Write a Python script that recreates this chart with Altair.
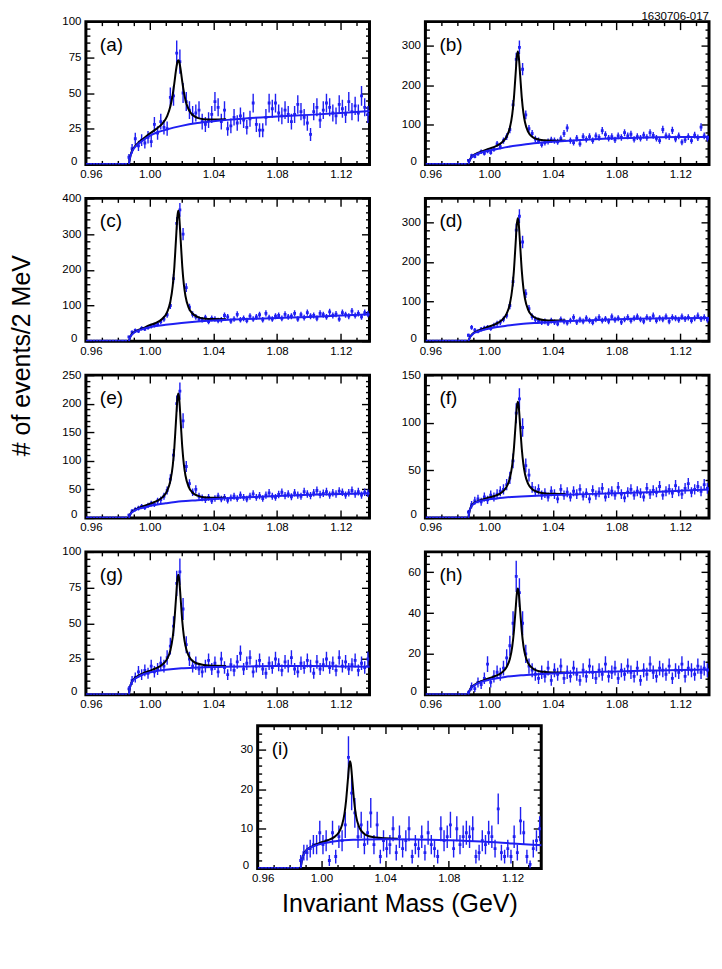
import altair as alt
import pandas as pd
import numpy as np

FONT = "Liberation Sans"
BLUE = "#1f1ff2"
W, H = 284, 143

# 2 MeV bin centres, 0.961 ... 1.139
BINS = [round(0.961 + 0.002 * i, 3) for i in range(90)]
N_EMPTY = 13  # bins below the K+K- threshold (0.961 ... 0.985)

# counts per bin from 0.987 upward
COUNTS = {
    "a": [5, 11, 18, 13, 17, 15, 19, 16, 28, 22,
          30, 26, 25, 47, 48, 78, 72, 50, 44, 38,
          35, 36, 38, 30, 28, 31, 35, 44, 40, 30,
          38, 25, 27, 33, 29, 34, 31, 26, 32, 43,
          28, 24, 24, 33, 43, 39, 43, 36, 34, 38,
          35, 30, 35, 42, 37, 33, 29, 21, 37, 40,
          31, 38, 43, 40, 36, 34, 42, 39, 35, 44,
          37, 41, 36, 48, 40, 35, 42],
    "b": [10, 22, 20, 27, 32, 28, 34, 30, 38, 52,
          45, 60, 70, 88, 150, 265, 295, 240, 125, 90,
          78, 64, 60, 50, 55, 58, 62, 60, 57, 65,
          78, 92, 60, 55, 66, 52, 70, 63, 70, 60,
          72, 68, 85, 75, 66, 70, 62, 72, 68, 80,
          72, 76, 63, 70, 66, 74, 68, 80, 73, 66,
          60, 88, 72, 70, 86, 64, 72, 56, 62, 70,
          60, 74, 67, 94, 72, 66, 78],
    "c": [12, 25, 30, 28, 36, 34, 38, 42, 45, 48,
          55, 62, 74, 100, 175, 330, 368, 300, 150, 95,
          75, 68, 62, 60, 66, 55, 64, 62, 58, 60,
          72, 68, 56, 62, 75, 60, 64, 58, 70, 62,
          68, 74, 60, 78, 66, 62, 70, 72, 64, 75,
          68, 70, 78, 62, 74, 66, 80, 70, 72, 64,
          78, 74, 68, 82, 72, 76, 62, 80, 74, 70,
          84, 72, 78, 68, 80, 76, 74],
    "d": [15, 35, 28, 25, 30, 33, 35, 32, 40, 45,
          48, 55, 65, 90, 150, 280, 315, 250, 120, 82,
          62, 55, 52, 48, 50, 45, 52, 48, 44, 55,
          50, 46, 52, 60, 48, 54, 50, 58, 52, 47,
          55, 60, 52, 56, 50, 62, 54, 58, 48, 55,
          60, 52, 58, 62, 55, 50, 60, 56, 64, 52,
          58, 55, 62, 50, 60, 58, 54, 62, 56, 60,
          52, 58, 64, 56, 60, 54, 58],
    "e": [5, 12, 15, 17, 20, 18, 22, 25, 24, 30,
          32, 38, 48, 68, 110, 200, 222, 170, 90, 60,
          45, 50, 38, 35, 32, 36, 30, 34, 38, 33,
          36, 31, 35, 38, 34, 40, 36, 33, 38, 42,
          36, 39, 34, 40, 44, 38, 36, 41, 45, 39,
          42, 37, 44, 40, 38, 46, 42, 39, 44, 48,
          41, 43, 46, 40, 44, 42, 47, 45, 40, 44,
          48, 42, 46, 40, 45, 43, 47],
    "f": [6, 14, 18, 20, 17, 22, 19, 24, 22, 25,
          28, 30, 35, 42, 60, 110, 125, 95, 55, 45,
          32, 28, 30, 24, 26, 22, 28, 25, 20, 30,
          24, 27, 22, 28, 25, 30, 23, 26, 20, 29,
          24, 27, 31, 22, 26, 28, 24, 32, 25, 21,
          27, 30, 24, 28, 26, 22, 31, 25, 29, 27,
          33, 24, 28, 30, 26, 34, 28, 25, 31, 36,
          27, 30, 33, 28, 35, 31, 29],
    "g": [4, 10, 12, 16, 14, 17, 15, 20, 16, 18,
          22, 20, 26, 34, 48, 78, 86, 60, 35, 25,
          20, 22, 18, 16, 20, 24, 18, 22, 16, 25,
          19, 14, 21, 17, 23, 29, 18, 22, 26, 16,
          20, 24, 18, 15, 22, 19, 25, 21, 17, 23,
          20, 26, 18, 16, 22, 19, 24, 20, 15, 23,
          18, 21, 25, 19, 22, 17, 26, 20, 23, 18,
          21, 24, 17, 22, 19, 25, 20],
    "h": [1, 4, 3, 6, 5, 8, 15, 6, 9, 11,
          10, 13, 18, 24, 35, 58, 50, 35, 20, 14,
          12, 10, 8, 11, 9, 13, 7, 12, 10, 14,
          8, 11, 9, 13, 10, 7, 12, 9, 14, 11,
          8, 12, 10, 15, 9, 11, 13, 8, 12, 10,
          14, 11, 9, 13, 7, 12, 10, 15, 11, 9,
          13, 12, 10, 14, 8, 12, 11, 15, 9, 13,
          12, 10, 14, 11, 13, 12, 15],
    "i": [2, 4, 4, 5, 6, 6, 9, 6, 7, 2,
          9, 3, 8, 7, 11, 28, 19, 14, 8, 11,
          6, 9, 14, 6, 11, 3, 7, 5, 6, 10,
          4, 8, 5, 7, 10, 3, 6, 5, 8, 4,
          9, 6, 5, 3, 10, 7, 8, 11, 5, 10,
          6, 8, 9, 8, 10, 3, 4, 7, 6, 9,
          8, 5, 15, 4, 3, 5, 3, 8, 4, 12,
          9, 3, 1, 5, 7, 10, 6],
}

# background fit curve samples
BX = [0.987, 0.9875, 0.988, 0.989, 0.990, 0.992, 0.995, 1.000, 1.005, 1.010,
      1.020, 1.030, 1.040, 1.060, 1.080, 1.100, 1.120, 1.140]
BG = {
    "a": [0, 3.5, 6, 9, 11, 13.5, 16.2, 20, 22.5, 24.2, 27, 29, 30.3, 32.2, 33.5, 34.7, 36, 37.5],
    "b": [0, 7, 12, 18, 22, 26, 30, 35, 39, 43, 49, 54, 57, 62, 66, 68, 69, 69],
    "c": [0, 8, 13, 19, 23, 28, 33, 39, 43, 46, 51, 55, 58, 62, 65, 68, 72, 75],
    "d": [0, 6, 10, 15, 19, 23, 27, 32, 35.5, 38.5, 43, 46, 48.5, 52, 55, 57, 58, 58.5],
    "e": [0, 4, 7, 10, 12, 15, 17.5, 21, 23.5, 25.5, 29, 31, 33, 36, 38.5, 40.5, 42, 43],
    "f": [0, 6, 9, 12.5, 14.5, 16.5, 18, 19.5, 20.5, 21.5, 22.5, 23.3, 24, 25, 26, 27, 28.5, 30],
    "g": [0, 4, 6.5, 9, 10.5, 12, 13.8, 15.5, 16.8, 17.5, 18.5, 19, 19.4, 19.8, 20, 20, 19.8, 19.5],
    "h": [0, 1.5, 2.5, 3.5, 4.2, 5.2, 6.2, 7.3, 8.1, 8.7, 9.5, 10, 10.4, 11, 11.4, 11.8, 12.1, 12.4],
    "i": [0, 1.5, 2.5, 3.5, 4.2, 5.0, 5.6, 6.2, 6.6, 6.9, 7.2, 7.3, 7.35, 7.3, 7.1, 6.8, 6.3, 5.8],
}

# total fit curve samples (signal + background) around the phi peak
CX = [0.987, 0.988, 0.990, 0.993, 0.996, 1.000, 1.004, 1.008, 1.011, 1.013,
      1.0145, 1.0155, 1.0165, 1.0175, 1.018, 1.0185, 1.0195, 1.0205, 1.0215, 1.0225,
      1.0245, 1.027, 1.030, 1.034, 1.040, 1.048]
TOT = {
    "a": [0, 6.2, 11.4, 15.2, 18.0, 21.6, 24.7, 28.6, 33.8, 40.5, 48.9, 56.7, 65.5, 72.0, 73.0,
          72.2, 66.2, 57.9, 50.6, 45.0, 38.5, 34.6, 32.6, 31.7, 31.4, 31.6],
    "b": [0, 12.5, 22.9, 29.2, 33.6, 39.5, 45.5, 55.4, 70.3, 92.4, 126.1, 165.0, 221.4, 275.3, 285,
          275.8, 223.0, 167.8, 129.9, 106.2, 81.9, 69.6, 64.0, 61.0, 60.0, 60.6],
    "c": [0, 13.6, 24.3, 31.7, 36.5, 45.0, 51.2, 62.8, 81.5, 110.4, 154.8, 206.3, 280.9, 352.2, 365,
          352.7, 282.4, 208.9, 158.3, 126.6, 93.8, 76.8, 68.2, 63.7, 62.0, 61.7],
    "d": [0, 10.5, 20.1, 26.1, 30.9, 37.1, 43.1, 53.1, 69.3, 93.8, 131.5, 175.3, 238.7, 299.2, 310,
          299.5, 239.7, 177.1, 134.0, 107.0, 78.9, 64.4, 57.2, 53.4, 51.9, 52.0],
    "e": [0, 7.4, 12.8, 17.1, 20.6, 24.6, 28.9, 35.9, 47.3, 64.7, 91.3, 122.4, 167.3, 210.2, 218,
          210.6, 168.2, 123.9, 93.4, 74.3, 54.4, 44.0, 39.0, 36.3, 35.4, 35.5],
    "f": [0, 9.2, 14.9, 17.7, 19.5, 21.4, 23.4, 27.0, 32.9, 41.7, 55.7, 72.0, 95.5, 118.0, 122,
          118.1, 95.8, 72.4, 56.3, 46.2, 35.7, 30.2, 27.5, 26.0, 25.3, 25.1],
    "g": [0, 6.6, 10.8, 13.3, 15.0, 16.7, 18.5, 21.1, 25.1, 31.0, 40.3, 51.0, 66.5, 81.4, 84,
          81.5, 66.8, 51.4, 40.9, 34.2, 27.3, 23.6, 21.8, 20.8, 20.2, 20.1],
    "h": [0, 2.6, 4.4, 5.9, 6.9, 8.1, 9.2, 10.9, 13.6, 17.5, 23.6, 30.6, 40.6, 50.3, 52.0,
          50.4, 40.8, 31.0, 24.1, 19.8, 15.4, 13.1, 11.8, 11.2, 10.9, 10.9],
    "i": [0, 2.5, 4.3, 5.3, 5.9, 6.6, 7.1, 7.9, 9.1, 11.0, 13.8, 17.1, 21.7, 26.2, 27.0,
          26.2, 21.8, 17.2, 13.9, 11.9, 9.8, 8.7, 8.1, 7.8, 7.6, 7.5],
}

# y axis: top of range, labelled ticks, minor tick step
YAX = {
    "a": (100, [0, 25, 50, 75, 100], 5),
    "b": (360, [0, 100, 200, 300], 20),
    "c": (400, [0, 100, 200, 300, 400], 20),
    "d": (360, [0, 100, 200, 300], 20),
    "e": (250, [0, 50, 100, 150, 200, 250], 10),
    "f": (150, [0, 50, 100, 150], 10),
    "g": (100, [0, 25, 50, 75, 100], 5),
    "h": (70, [0, 20, 40, 60], 4),
    "i": (36, [0, 10, 20, 30], 2),
}

XMAJ = [0.96, 1.00, 1.04, 1.08, 1.12]
XMIN = [round(0.97 + 0.01 * k, 2) for k in range(17)]
XMIN = [v for v in XMIN if v not in (1.0, 1.04, 1.08, 1.12)]
XDOM = [0.96, 1.138]


def tick_axis(orient, offset, values, size):
    return alt.Axis(orient=orient, offset=offset, values=values, labels=False,
                    domain=False, grid=False, ticks=True, tickSize=size,
                    tickWidth=1.4, tickColor="black", title=None)


def panel(key, xtitle=False, ytitle=False, stamp=False):
    ymax, ymaj, ystep = YAX[key]
    ymin = [v for v in range(0, ymax + 1, ystep) if v not in ymaj]
    n = np.array([0] * N_EMPTY + COUNTS[key], dtype=float)
    err = np.sqrt(n)
    df = pd.DataFrame({"m": BINS, "n": n, "lo": n - err, "hi": n + err})
    bg = pd.DataFrame({"m": BX, "v": BG[key]})
    tot = pd.DataFrame({"m": CX, "v": TOT[key]})

    xs = alt.Scale(domain=XDOM, nice=False, zero=False)
    ys = alt.Scale(domain=[0, ymax], nice=False)

    xkw = dict(orient="bottom", values=XMAJ, format=".2f", labelFlush=False,
               labelOverlap=False, ticks=False, tickSize=0, domain=False, grid=False,
               labelFontSize=11.5, labelFont=FONT, labelColor="black", labelPadding=4,
               labelOffset=alt.condition("datum.value < 0.97", alt.value(5), alt.value(0)))
    if xtitle:
        xkw.update(title="Invariant Mass (GeV)", titleFont=FONT, titleFontSize=25,
                   titleFontWeight="normal", titleColor="black", titleX=W / 2,
                   titleY=43, titleAlign="center", titleBaseline="alphabetic")
    else:
        xkw.update(title=None)
    ykw = dict(orient="left", values=ymaj, format="d", labelFlush=False,
               labelOverlap=False, ticks=False, tickSize=0, domain=False, grid=False,
               labelFontSize=11.5, labelFont=FONT, labelColor="black",
               labelPadding=alt.condition("datum.value == 0", alt.value(9), alt.value(5)),
               labelOffset=alt.condition("datum.value == 0", alt.value(-3), alt.value(0)))
    if ytitle:
        ykw.update(title="# of events/2 MeV", titleFont=FONT, titleFontSize=25,
                   titleFontWeight="normal", titleColor="black", titleAngle=270,
                   titleX=-76, titleY=-20, titleAlign="center",
                   titleBaseline="top")
    else:
        ykw.update(title=None)

    bars = alt.Chart(df).mark_rule(color=BLUE, strokeWidth=1.4, clip=True).encode(
        x=alt.X("m:Q", scale=xs, axis=alt.Axis(**xkw)),
        y=alt.Y("lo:Q", scale=ys, axis=alt.Axis(**ykw)),
        y2="hi:Q",
    )
    pts = alt.Chart(df).mark_square(color=BLUE, size=8, opacity=1, clip=True).encode(
        x=alt.X("m:Q", scale=xs, axis=tick_axis("top", -H, XMAJ, 8)),
        y=alt.Y("n:Q", scale=ys, axis=tick_axis("right", -W, ymaj, 8)),
    )
    black = alt.Chart(tot).mark_line(color="black", strokeWidth=2, interpolate="monotone",
                                     clip=True).encode(
        x=alt.X("m:Q", scale=xs, axis=tick_axis("bottom", -H, XMAJ, 8)),
        y=alt.Y("v:Q", scale=ys, axis=tick_axis("left", -W, ymaj, 8)),
    )
    blue = alt.Chart(bg).mark_line(color=BLUE, strokeWidth=2, interpolate="monotone",
                                   clip=True).encode(
        x=alt.X("m:Q", scale=xs, axis=tick_axis("top", -H, XMIN, 4)),
        y=alt.Y("v:Q", scale=ys, axis=tick_axis("right", -W, ymin, 4)),
    )
    ghost = alt.Chart(bg).mark_line(opacity=0).encode(
        x=alt.X("m:Q", scale=xs, axis=tick_axis("bottom", -H, XMIN, 4)),
        y=alt.Y("v:Q", scale=ys, axis=tick_axis("left", -W, ymin, 4)),
    )
    label = alt.Chart(pd.DataFrame({"t": [f"({key})"]})).mark_text(
        align="left", baseline="middle", fontSize=19, font=FONT, color="black"
    ).encode(x=alt.value(14), y=alt.value(23), text="t:N")
    layers = [bars, pts, black, blue, ghost, label]
    if stamp:
        layers.append(
            alt.Chart(pd.DataFrame({"t": ["1630706-017"]})).mark_text(
                align="right", baseline="top", fontSize=11.5, font=FONT,
                color="black"
            ).encode(x=alt.value(W), y=alt.value(-11), text="t:N")
        )
    return alt.layer(*layers).resolve_axis(x="independent", y="independent").properties(
        width=W, height=H)


grid = alt.concat(
    panel("a"), panel("b", stamp=True),
    panel("c"), panel("d"),
    panel("e", ytitle=True), panel("f"),
    panel("g"), panel("h"),
    columns=2, spacing=alt.RowColnumber(row=34, column=56), bounds="flush",
)

# empty, frameless spacer that pushes the last panel to the centre
spacer = alt.Chart(pd.DataFrame({"t": [""]})).mark_text(opacity=0, baseline="top").encode(
    x=alt.value(0), y=alt.value(2), text="t:N"
).properties(width=152, height=H,
             view=alt.ViewBackground(strokeOpacity=0, strokeWidth=0))

last = alt.hconcat(spacer, panel("i", xtitle=True), spacing=0)

chart = alt.vconcat(grid, last, spacing=11).properties(
    padding={"left": 0, "top": 0, "right": 0, "bottom": 0},
    background="white",
).configure_view(stroke="black", strokeWidth=3)

chart.save("out.html", embed_options={"renderer": "svg", "actions": False})
